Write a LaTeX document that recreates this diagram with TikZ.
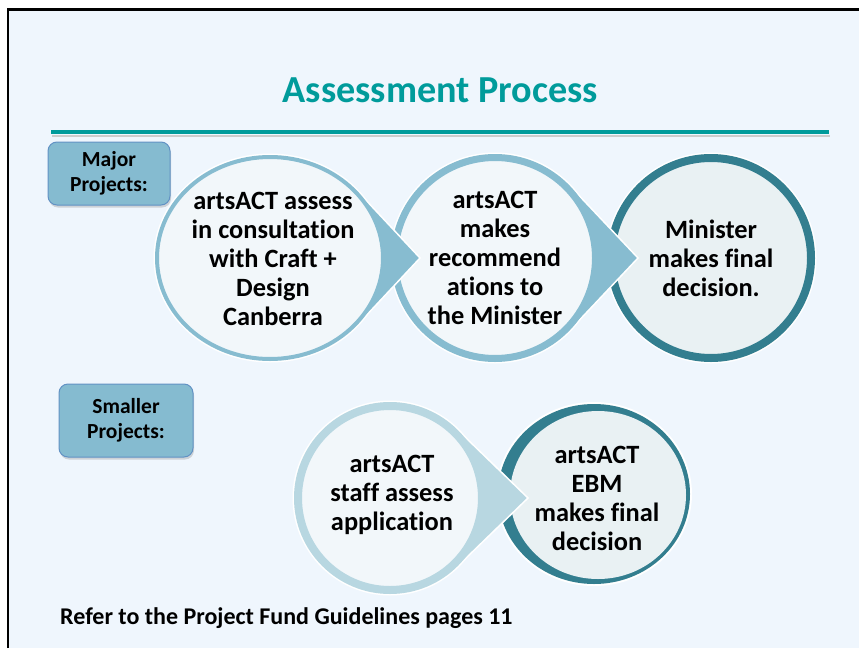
\documentclass[tikz,border=0pt]{standalone}
\usepackage{fontspec}
\setmainfont{Carlito}[Ligatures={NoCommon}]
\usetikzlibrary{calc,shadows}

\definecolor{paneblue}{RGB}{239,246,253}
\definecolor{titleteal}{RGB}{0,155,155}
\definecolor{boxblue}{RGB}{133,187,208}
\definecolor{boxedge}{RGB}{98,146,196}
\definecolor{ringblue}{RGB}{135,188,208}
\definecolor{ringpale}{RGB}{184,215,225}
\definecolor{ringdark}{RGB}{51,126,143}
\definecolor{discpale}{RGB}{242,247,250}
\definecolor{discgrey}{RGB}{233,241,243}

\tikzset{
  projbox/.style={draw=boxedge, fill=boxblue, rounded corners=9pt, line width=1pt,
    align=center, inner sep=0pt, font=\fontsize{21.5}{25.5}\selectfont\bfseries,
    drop shadow={opacity=0.3, shadow xshift=1pt, shadow yshift=-2.5pt}},
  circletext/.style={align=center, inner sep=0pt, font=\fontsize{26.4}{29}\selectfont\bfseries},
  halo/.style={draw=white, line width=#1},
}

\begin{document}
\begin{tikzpicture}[x=1pt,y=-1pt]
\useasboundingbox (0,0) rectangle (859,648);

% pane and frame
\fill[paneblue] (8,9.5) rectangle (859,648);
\draw[line width=2.5pt] (8,648) -- (8,9.5) -- (859,9.5);

% title and rule
\node[font=\fontsize{38.2}{44}\selectfont\bfseries, text=titleteal, anchor=base] (title) at (440.5,102) {Assessment Process};
\draw[black!20, line width=2pt] (52,136) -- (830,136);
\draw[titleteal, line width=4.5pt] (51,132) -- (829,132);

% project boxes
\node[projbox, minimum width=122, minimum height=63] (major) at (109,173.5) {Major\\Projects:};
\node[projbox, minimum width=134, minimum height=73] (smaller) at (126,420.5) {Smaller\\Projects:};

% centres and tips
\coordinate (c1) at (270,258);
\coordinate (c1tip) at (420,258);
\coordinate (c2) at (495,258);
\coordinate (c2tip) at (638,258);
\coordinate (c3) at (711,258);
\coordinate (c4) at (390,498);
\coordinate (c4tip) at (528,498);
\coordinate (c5) at (594,494);

% major row, right to left
\draw[preaction={draw=white, line width=11pt}, draw=ringdark, line width=8pt, fill=discgrey] (c3) circle[radius=100];
\node[circletext] (decide) at (c3) {Minister\\makes final\\decision.};

\draw[halo=10pt] (c2) circle[radius=100.5];
\fill[ringblue, draw=white, line width=1.5pt] ($(c2)+(75.7,-71.3)$) -- (c2tip) -- ($(c2)+(75.7,71.3)$) -- cycle;
\draw[ringblue, line width=7pt, fill=discpale] (c2) circle[radius=100.5];
\node[circletext] (recommend) at (c2) {artsACT\\makes\\recommend\\ations to\\the Minister};

\draw[halo=7pt] (c1) ellipse[x radius=113, y radius=101];
\fill[ringblue, draw=white, line width=1.5pt] ($(c1)+(88.2,-66.1)$) -- (c1tip) -- ($(c1)+(88.2,66.1)$) -- cycle;
\draw[ringblue, line width=4pt, fill=discpale] (c1) ellipse[x radius=113, y radius=101];
\node[circletext] (assess) at (273,259) {artsACT assess\\in consultation\\with Craft +\\Design\\Canberra};

% smaller row
\fill[white] (c5) ellipse[x radius=98, y radius=92];
\fill[ringdark] (c5) ellipse[x radius=96, y radius=90];
\fill[discgrey] ($(c5)+(4,1)$) ellipse[x radius=88, y radius=84];
\node[circletext] (ebm) at (597,498) {artsACT\\EBM\\makes final\\decision};

\draw[halo=11pt] (c4) circle[radius=92];
\fill[ringpale, draw=white, line width=1.5pt] ($(c4)+(66.8,-69)$) -- (c4tip) -- ($(c4)+(66.8,69)$) -- cycle;
\draw[ringpale, line width=8pt, fill=discpale] (c4) circle[radius=92];
\node[circletext] (staff) at (392,495) {artsACT\\staff assess\\application};

% note
\node[anchor=base west, inner sep=0pt, font=\fontsize{24}{28}\selectfont\bfseries] (refer) at (60,624) {Refer to the Project Fund Guidelines pages 11};

\end{tikzpicture}
\end{document}
